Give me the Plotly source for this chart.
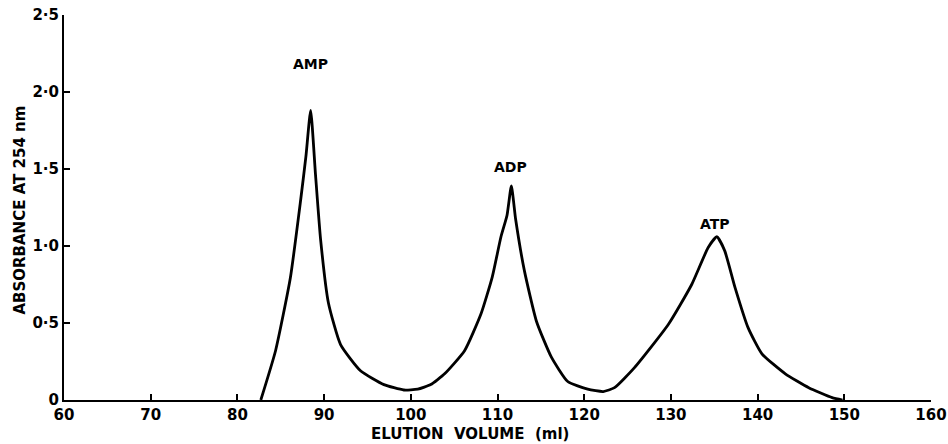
import plotly.graph_objects as go

# Elution volume (ml) and absorbance at 254 nm
volume = [82.7, 84.4, 86.1, 87.3, 87.9, 88.45, 89.0, 89.6, 90.5, 91.9, 94.2, 96.9, 99.2,
          100.8, 102.3, 103.9, 106.2, 108.1, 109.4, 110.4, 111.1, 111.6, 112.1, 113.1,
          114.5, 116.2, 118.1, 120.4, 122.2, 123.5, 125.8, 129.7, 132.4, 134.3, 135.3,
          136.2, 137.4, 138.9, 140.5, 143.2, 145.9, 148.6, 149.8]
absorbance = [0.0, 0.32, 0.79, 1.30, 1.58, 1.88, 1.47, 1.04, 0.63, 0.36, 0.19, 0.10, 0.065,
              0.07, 0.10, 0.17, 0.32, 0.56, 0.80, 1.06, 1.20, 1.39, 1.17, 0.84,
              0.51, 0.28, 0.12, 0.07, 0.055, 0.08, 0.21, 0.49, 0.75, 0.99, 1.06,
              0.97, 0.73, 0.47, 0.30, 0.17, 0.08, 0.015, 0.0]

peak_names = ["AMP", "ADP", "ATP"]
peak_x = [88.4, 111.5, 135.1]
peak_label_y = [2.18, 1.51, 1.14]

x_ticks = [60, 70, 80, 90, 100, 110, 120, 130, 140, 150, 160]
x_tick_labels = ["60", "70", "80", "90", "100", "110", "120", "130", "140", "150", "160"]
y_ticks = [0, 0.5, 1.0, 1.5, 2.0, 2.5]
y_tick_labels = ["0", "0·5", "1·0", "1·5", "2·0", "2·5"]

font_family = "DejaVu Sans, Liberation Sans, sans-serif"

fig = go.Figure()
fig.add_trace(go.Scatter(
    x=volume, y=absorbance, mode="lines",
    line=dict(color="black", width=2.8, shape="spline", smoothing=0.5),
    hoverinfo="skip", showlegend=False,
))

for name, px, py in zip(peak_names, peak_x, peak_label_y):
    fig.add_annotation(x=px, y=py, text="<b>" + name + "</b>", showarrow=False,
                       font=dict(family=font_family, size=14, color="black"),
                       xanchor="center", yanchor="middle")

fig.add_annotation(x=0.468, y=-0.088, xref="paper", yref="paper",
                   text="<b>ELUTION  VOLUME  (ml)</b>", showarrow=False,
                   font=dict(family=font_family, size=15, color="black"),
                   xanchor="center", yanchor="middle")
fig.add_annotation(x=-0.051, y=0.494, xref="paper", yref="paper",
                   text="<b>ABSORBANCE AT 254 nm</b>", showarrow=False, textangle=-90,
                   font=dict(family=font_family, size=15, color="black"),
                   xanchor="center", yanchor="middle")

fig.update_layout(
    width=948, height=444,
    margin=dict(l=64, r=17, t=15, b=44),
    paper_bgcolor="white", plot_bgcolor="white",
    font=dict(family=font_family, color="black"),
)
fig.update_xaxes(
    range=[60, 160], tickvals=x_ticks, ticktext=x_tick_labels, automargin=False,
    ticks="inside", ticklen=6, tickwidth=1.5, tickcolor="black",
    showline=True, linecolor="black", linewidth=2,
    showgrid=False, zeroline=False,
    tickfont=dict(family=font_family, size=15, color="black", weight="bold"),
)
fig.update_yaxes(
    range=[0, 2.5], tickvals=y_ticks, ticktext=y_tick_labels, automargin=False,
    ticks="inside", ticklen=6, tickwidth=1.5, tickcolor="black",
    showline=True, linecolor="black", linewidth=2,
    showgrid=False, zeroline=False,
    tickfont=dict(family=font_family, size=15, color="black", weight="bold"),
)

fig.write_html(
    "out.html",
    config={"displayModeBar": False},
    post_script="document.body.style.margin='0';document.body.style.overflow='hidden';",
)
